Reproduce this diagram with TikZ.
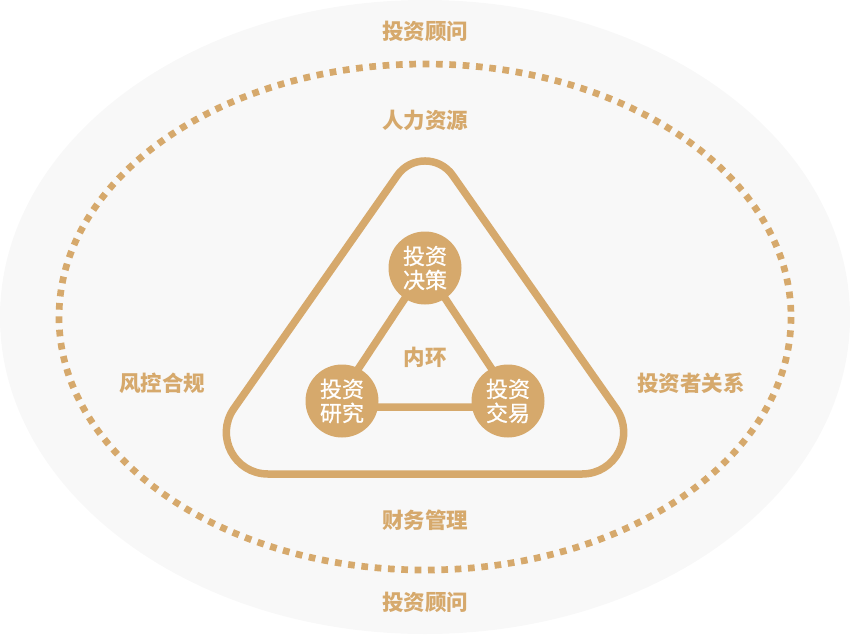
\documentclass[tikz,border=0pt]{standalone}
\usepackage{fontspec}
\setmainfont{Noto Sans CJK SC}
\newfontfamily\cjkmed{Noto Sans CJK SC}[FakeBold=0.8]
\usetikzlibrary{calc}
\definecolor{gold}{HTML}{D6A96C}
\definecolor{bgray}{HTML}{F8F8F8}
\pgfdeclarelayer{back}
\pgfdeclarelayer{mid}
\pgfsetlayers{back,mid,main}
\tikzset{
  lbl/.style={text=gold, font=\fontsize{21.5}{24}\selectfont\bfseries, inner sep=0pt},
  circ/.style={circle, fill=gold, minimum size=73pt, inner sep=0pt, text=white, align=center,
    font=\fontsize{22}{24}\selectfont\cjkmed},
  conn/.style={draw=gold, line width=7.5pt, line join=round},
  tri/.style={draw=gold, line width=7.5pt, line join=round},
  dots/.style={draw=gold, line width=6.7pt, dash pattern=on 6.7pt off 6.65pt}
}
\begin{document}
\begin{tikzpicture}[x=1pt,y=-1pt]
\useasboundingbox (0,0) rectangle (850,634);
\begin{pgfonlayer}{back}
\fill[bgray] (425,317) ellipse [x radius=425, y radius=317];
\path[dots] (425,317) ellipse [x radius=366, y radius=253];
\end{pgfonlayer}

% rounded outer triangle
\coordinate (A) at (425,136);
\coordinate (B) at (188,474);
\coordinate (C) at (662,474);
\coordinate (TA1) at (397.4,175.3);
\coordinate (TA2) at (452.6,175.3);
\coordinate (TB1) at (233.9,408.5);
\coordinate (TB2) at (268,474);
\coordinate (TC1) at (616.1,408.5);
\coordinate (TC2) at (582,474);
\path[tri] (TA2) .. controls ($(TA2)!0.486!(A)$) and ($(TA1)!0.486!(A)$) .. (TA1)
  -- (TB1) .. controls ($(TB1)!0.421!(B)$) and ($(TB2)!0.421!(B)$) .. (TB2)
  -- (TC2) .. controls ($(TC2)!0.421!(C)$) and ($(TC1)!0.421!(C)$) .. (TC1) -- cycle;

% inner circles
\node[circ] (dec) at (425,268) {投资\\决策};
\node[circ] (res) at (342,401) {投资\\研究};
\node[circ] (tra) at (508,401) {投资\\交易};
\begin{pgfonlayer}{mid}
\path[conn] (dec.center) -- ([shift={(-9,6)}]res.center) -- ([shift={(9,6)}]tra.center) -- cycle;
\end{pgfonlayer}
\node[lbl] (inner) at (425,357) {内环};

% labels
\node[lbl] (adv1) at (425,31) {投资顾问};
\node[lbl] (hr) at (425,120) {人力资源};
\node[lbl] (fin) at (425,520) {财务管理};
\node[lbl] (adv2) at (425,602) {投资顾问};
\node[lbl] (risk) at (162,383) {风控合规};
\node[lbl] (ir) at (691,383) {投资者关系};
\end{tikzpicture}
\end{document}
